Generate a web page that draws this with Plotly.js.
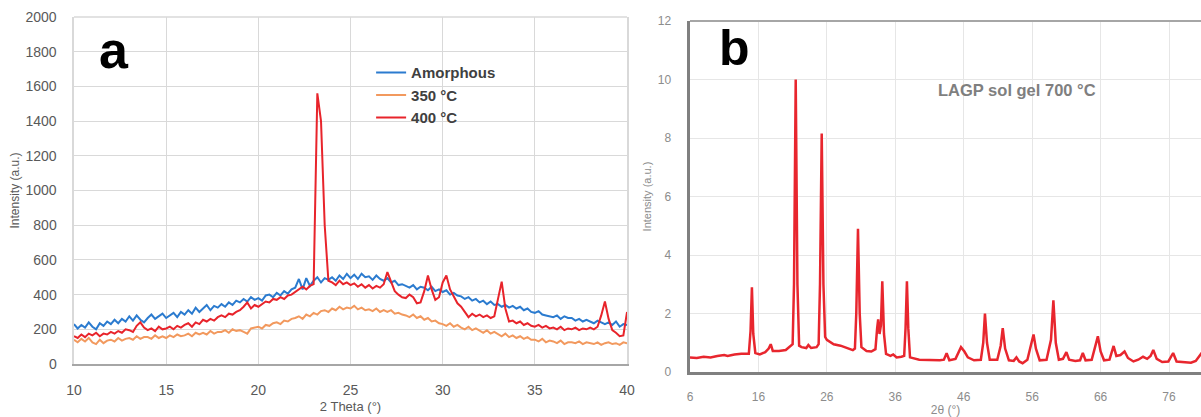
<!DOCTYPE html>
<html><head><meta charset="utf-8">
<script src="https://cdn.plot.ly/plotly-3.0.1.min.js"></script>
<style>html,body{margin:0;padding:0;background:#fff;}#chart{width:1201px;height:417px;}</style>
</head><body><div id="chart"></div>
<script>
// Panel a: 2 Theta from 10 to 40, sampled every 0.2 degrees
const thetaStartA = 10;
const thetaStepA = 0.2;
const seriesNames = ['Amorphous', '350 °C', '400 °C'];
const amorphous = [
 230,205,225,210,240, 215,200,235,220,245, 230,255,235,260,245, 275,250,280,255,240,
 265,285,260,275,290, 265,280,295,270,300, 285,310,290,325,300, 320,340,310,335,325,
 345,330,355,340,365, 355,375,360,385,370, 380,365,395,400,385, 410,395,420,405,430,
 440,490,430,495,450, 480,500,470,495,485, 500,480,510,490,520, 495,515,490,520,500,
 505,485,510,490,480, 495,470,480,455,460, 450,440,455,430,445, 440,425,445,420,430,
 415,425,400,410,395, 390,375,385,365,375, 355,365,345,360,340, 345,330,340,325,335,
 320,330,310,320,300, 295,305,285,280,275, 270,280,260,275,265, 265,250,260,245,255,
 245,235,250,240,230, 240,225,245,215,230, 225
];
const c350 = [
 140,125,145,130,150, 125,115,140,120,135, 140,130,150,135,145, 150,140,160,145,155,
 155,145,165,150,160, 150,165,155,170,160, 165,175,160,180,170, 180,170,190,175,185,
 185,195,180,200,190, 195,185,175,205,210, 215,205,225,220,235, 240,230,250,245,260,
 265,275,260,285,275, 295,285,305,310,300, 320,310,330,315,325, 320,335,315,325,310,
 315,305,320,300,310, 300,310,290,295,285, 280,270,285,265,275, 255,265,245,250,235,
 230,220,235,215,225, 210,200,215,195,205, 190,180,195,175,185, 170,160,175,155,165,
 150,160,145,155,140, 140,130,145,125,135, 130,120,135,115,125, 125,120,130,115,125,
 120,115,125,110,120, 125,115,120,110,125, 120
];
const c400 = [
 160,150,170,155,175, 165,180,160,175,170, 185,175,190,180,200, 195,185,220,240,210,
 195,205,190,215,200, 205,215,200,220,210, 225,235,215,240,230, 255,245,260,250,270,
 280,270,290,285,300, 310,330,355,320,340, 330,345,360,355,375, 370,385,375,395,400,
 415,425,445,430,450, 460,1560,1400,800,480, 470,455,480,460,470, 455,465,445,460,440,
 455,435,450,440,460, 530,470,420,400,385, 380,400,385,350,355, 420,510,430,370,385,
 470,510,430,390,350, 330,300,270,290,275, 285,270,280,265,275, 380,475,320,245,250,
 235,245,225,235,220, 215,225,210,220,205, 210,200,215,195,205, 200,210,195,205,200,
 210,200,215,280,360, 260,195,180,160,165, 300
];

// Panel b: LAGP sol gel 700 °C
const bLabel = 'LAGP sol gel 700 °C';
const bTheta = [
 6.0, 7.0, 8.0, 9.0, 10.0, 11.0, 11.5, 12.5, 13.5, 14.6,
 14.85, 15.05, 15.25, 15.55, 16.2, 17.0, 17.5, 17.8, 18.1, 19.0,
 20.0, 21.0, 21.2, 21.45, 21.7, 21.95, 22.3, 23.0, 23.3, 23.7,
 24.5, 24.8, 25.0, 25.25, 25.5, 25.75, 26.0, 27.0, 28.0, 29.0,
 29.8, 30.1, 30.3, 30.55, 30.8, 31.05, 31.8, 32.5, 33.1, 33.35,
 33.5, 33.7, 33.9, 34.1, 34.35, 34.65, 35.3, 35.7, 36.2, 36.9,
 37.3, 37.5, 37.7, 37.9, 38.15, 39.5, 41.0, 42.5, 43.1, 43.5,
 43.9, 44.8, 45.6, 46.1, 46.6, 47.5, 48.5, 48.85, 49.1, 49.4,
 49.8, 50.9, 51.4, 51.7, 52.05, 52.6, 53.3, 53.7, 54.1, 54.6,
 55.3, 55.9, 56.2, 56.55, 57.1, 58.1, 58.75, 59.1, 59.45, 59.9,
 60.5, 61.0, 61.4, 62.3, 63.0, 63.4, 63.8, 64.7, 65.2, 65.6,
 66.0, 66.5, 67.3, 67.9, 68.3, 68.9, 69.5, 70.0, 70.8, 71.5,
 72.2, 72.8, 73.3, 73.7, 74.2, 75.0, 75.9, 76.6, 77.1, 77.8,
 78.5, 79.2, 79.9, 80.5, 81.0
];
const bIntensity = [
 0.50, 0.48, 0.52, 0.50, 0.55, 0.58, 0.55, 0.60, 0.62, 0.62,
 1.40, 2.90, 1.30, 0.65, 0.60, 0.68, 0.80, 0.95, 0.72, 0.72,
 0.75, 0.95, 3.00, 10.0, 3.00, 0.90, 0.85, 0.82, 0.92, 0.82,
 0.85, 0.95, 3.00, 8.15, 3.00, 1.20, 1.10, 0.95, 0.90, 0.82,
 0.75, 0.80, 2.00, 4.90, 2.00, 0.85, 0.72, 0.70, 0.78, 1.50,
 1.80, 1.30, 1.60, 3.10, 1.30, 0.62, 0.55, 0.60, 0.50, 0.52,
 0.55, 1.50, 3.10, 1.50, 0.50, 0.42, 0.40, 0.40, 0.42, 0.64,
 0.40, 0.45, 0.85, 0.70, 0.50, 0.40, 0.42, 1.00, 2.00, 1.00,
 0.42, 0.42, 0.90, 1.50, 0.80, 0.40, 0.38, 0.50, 0.36, 0.30,
 0.42, 1.00, 1.28, 0.80, 0.40, 0.42, 1.10, 2.45, 1.00, 0.42,
 0.45, 0.68, 0.42, 0.38, 0.40, 0.65, 0.40, 0.42, 0.85, 1.22,
 0.70, 0.40, 0.42, 0.89, 0.55, 0.58, 0.70, 0.48, 0.36, 0.42,
 0.52, 0.45, 0.55, 0.75, 0.45, 0.34, 0.36, 0.65, 0.36, 0.34,
 0.34, 0.32, 0.38, 0.55, 0.72
];
const aTicksX = [10, 15, 20, 25, 30, 35, 40];
const bTicksX = [6, 16, 26, 36, 46, 56, 66, 76];

const FONT = 'Liberation Sans, Arial, sans-serif';
const colors = ['#2b7bcf', '#f2995e', '#e8242b'];
const ys = [amorphous, c350, c400];

const traces = seriesNames.map((n, i) => ({
  type: 'scatter', mode: 'lines', name: n,
  x0: thetaStartA, dx: thetaStepA, y: ys[i],
  xaxis: 'x', yaxis: 'y',
  line: {color: colors[i], width: 2}
}));
traces.push({
  type: 'scatter', mode: 'lines', name: bLabel, showlegend: false,
  x: bTheta, y: bIntensity, xaxis: 'x2', yaxis: 'y2',
  line: {color: '#e8262e', width: 2.5}
});

const layout = {
  width: 1201, height: 417,
  margin: {l: 0, r: 0, t: 0, b: 0},
  paper_bgcolor: '#ffffff', plot_bgcolor: '#ffffff',
  font: {family: FONT},
  showlegend: true,
  legend: {
    x: 0.309, y: 0.865, xanchor: 'left', yanchor: 'top',
    bgcolor: 'rgba(0,0,0,0)', itemwidth: 30, tracegroupgap: 0,
    font: {family: FONT, size: 15, color: '#404040', weight: 'bold'}
  },
  xaxis: {
    domain: [0.0616, 0.5221], range: [10, 40], tickvals: aTicksX, anchor: 'y',
    showgrid: true, gridcolor: '#d9d9d9', gridwidth: 1, zeroline: false,
    showline: true, linecolor: '#a6a6a6', linewidth: 2, ticks: '',
    ticklabelstandoff: 12,
    tickfont: {family: FONT, size: 14, color: '#595959'},
    title: {text: '2 Theta (°)', font: {family: FONT, size: 13, color: '#595959'}, standoff: 5}
  },
  yaxis: {
    domain: [0.1271, 0.9592], range: [0, 2000], dtick: 200, anchor: 'x',
    showgrid: true, gridcolor: '#d9d9d9', gridwidth: 1, zeroline: false,
    showline: true, linecolor: '#d9d9d9', linewidth: 1.5, mirror: true, ticks: '',
    ticklabelstandoff: 13,
    tickfont: {family: FONT, size: 14, color: '#595959'},
    title: {text: 'Intensity (a.u.)', font: {family: FONT, size: 12, color: '#595959'}, standoff: 3}
  },
  xaxis2: {
    domain: [0.5745, 1], range: [6, 80.67], tickvals: bTicksX, anchor: 'y2',
    showgrid: true, gridcolor: '#e6e6e6', gridwidth: 1, zeroline: false,
    showline: true, linecolor: '#808080', linewidth: 2.5, ticks: '',
    ticklabelstandoff: 12,
    tickfont: {family: FONT, size: 12, color: '#8c8c8c'},
    title: {text: '2θ (°)', font: {family: FONT, size: 12, color: '#8c8c8c'}, standoff: 4}
  },
  yaxis2: {
    domain: [0.1079, 0.9496], range: [0, 12], dtick: 2, anchor: 'x2',
    showgrid: true, gridcolor: '#e6e6e6', gridwidth: 1, zeroline: false,
    showline: true, linecolor: '#808080', linewidth: 2.5, ticks: '',
    ticklabelstandoff: 14,
    tickfont: {family: FONT, size: 12, color: '#8c8c8c'},
    title: {text: 'Intensity (a.u.)', font: {family: FONT, size: 11, color: '#8c8c8c'}, standoff: 4}
  },
  shapes: [
    {type: 'line', xref: 'x domain', yref: 'y domain', x0: 0, x1: 1, y0: 1, y1: 1,
     line: {color: '#d9d9d9', width: 1.5}},
    {type: 'line', xref: 'x2 domain', yref: 'y2 domain', x0: 0, x1: 1, y0: 1, y1: 1,
     line: {color: '#a6a6a6', width: 2}}
  ],
  annotations: [
    {text: 'a', xref: 'paper', yref: 'paper', x: 114 / 1201, y: 1 - 50 / 417,
     xanchor: 'center', yanchor: 'middle', showarrow: false,
     font: {family: FONT, size: 52, color: '#000000', weight: 'bold'}},
    {text: 'b', xref: 'paper', yref: 'paper', x: 734 / 1201, y: 1 - 48 / 417,
     xanchor: 'center', yanchor: 'middle', showarrow: false,
     font: {family: FONT, size: 50, color: '#000000', weight: 'bold'}},
    {text: bLabel, xref: 'paper', yref: 'paper', x: 1017 / 1201, y: 1 - 90 / 417,
     xanchor: 'center', yanchor: 'middle', showarrow: false,
     font: {family: FONT, size: 16.5, color: '#7f7f7f', weight: 'bold'}}
  ]
};

Plotly.newPlot('chart', traces, layout, {staticPlot: true, displayModeBar: false});
</script>
</body></html>
